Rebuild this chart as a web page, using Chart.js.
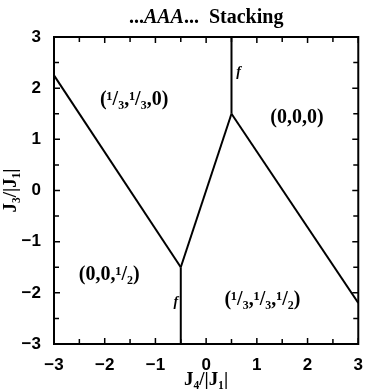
<!DOCTYPE html>
<html>
<head>
<meta charset="utf-8">
<script src="https://cdn.jsdelivr.net/npm/chart.js@4/dist/chart.umd.min.js"></script>
<style>
  html, body { margin: 0; padding: 0; background: #fff; }
  #wrap { width: 366px; height: 391px; }
</style>
</head>
<body>
<div id="wrap"><canvas id="chart"></canvas></div>
<script>
// phase boundaries in the (J4/|J1|, J3/|J1|) plane
const leftEdgeX = [-3, -0.5];
const leftEdgeY = [2.25, -1.5];
const middleEdgeX = [-0.5, 0.5];
const middleEdgeY = [-1.5, 1.5];
const rightEdgeX = [0.5, 3];
const rightEdgeY = [1.5, -2.2];
const upperEdgeX = [0.5, 0.5];
const upperEdgeY = [1.5, 3];
const lowerEdgeX = [-0.5, -0.5];
const lowerEdgeY = [-1.5, -3];

// phase names and where they sit
const phaseNames = ['(¹/₃,¹/₃,0)', '(0,0,0)', '(0,0,¹/₂)', '(¹/₃,¹/₃,¹/₂)'];
const phaseX = [-1.42, 1.79, -1.91, 1.11];
const phaseY = [1.77, 1.42, -1.65, -2.14];

// first-order transition marks
const markNames = ['f', 'f'];
const markX = [0.64, -0.6];
const markY = [2.3, -2.18];

const tickValues = [-3, -2, -1, 0, 1, 2, 3];

function pts(xs, ys) {
    return xs.map((x, i) => ({x: x, y: ys[i]}));
}

function edge(xs, ys) {
    return {
        data: pts(xs, ys),
        showLine: true,
        borderColor: '#000',
        borderWidth: 2,
        pointRadius: 0,
        fill: false
    };
}

const frame = {
    id: 'frame',
    afterDraw(chart) {
        const {ctx, chartArea: a, scales} = chart;
        ctx.save();
        ctx.strokeStyle = '#000';
        ctx.lineWidth = 2;
        ctx.strokeRect(a.left, a.top, a.right - a.left, a.bottom - a.top);
        ctx.lineWidth = 1.5;
        for (let v = -3; v <= 3; v += 0.5) {
            const len = Number.isInteger(v) ? 6 : 5;
            const px = scales.x.getPixelForValue(v);
            const py = scales.y.getPixelForValue(v);
            ctx.beginPath();
            ctx.moveTo(px, a.bottom); ctx.lineTo(px, a.bottom - len);
            ctx.moveTo(px, a.top); ctx.lineTo(px, a.top + len);
            ctx.moveTo(a.left, py); ctx.lineTo(a.left + len, py);
            ctx.moveTo(a.right, py); ctx.lineTo(a.right - len, py);
            ctx.stroke();
        }
        // phase labels
        ctx.fillStyle = '#000';
        ctx.textAlign = 'center';
        ctx.textBaseline = 'middle';
        ctx.font = 'bold 20px "Liberation Serif"';
        phaseNames.forEach((t, i) => {
            ctx.fillText(t, scales.x.getPixelForValue(phaseX[i]), scales.y.getPixelForValue(phaseY[i]));
        });
        ctx.font = 'italic bold 14px "Liberation Serif"';
        markNames.forEach((t, i) => {
            ctx.fillText(t, scales.x.getPixelForValue(markX[i]), scales.y.getPixelForValue(markY[i]));
        });
        // title with italic stacking letters
        const parts = [
            ['...', 'bold 20px "Liberation Serif"'],
            ['AAA', 'italic bold 20px "Liberation Serif"'],
            ['...  Stacking', 'bold 20px "Liberation Serif"']
        ];
        let total = 0;
        parts.forEach(p => { ctx.font = p[1]; total += ctx.measureText(p[0]).width; });
        let x = (a.left + a.right) / 2 - total / 2;
        ctx.textAlign = 'left';
        ctx.textBaseline = 'alphabetic';
        parts.forEach(p => {
            ctx.font = p[1];
            ctx.fillText(p[0], x, 23);
            x += ctx.measureText(p[0]).width;
        });
        ctx.restore();
    }
};

function tickLabel(v) {
    if (!tickValues.includes(v)) return '';
    return v < 0 ? '\u2212' + Math.abs(v) : String(v);
}

new Chart(document.getElementById('chart').getContext('2d'), {
    type: 'scatter',
    data: {
        datasets: [
            edge(leftEdgeX, leftEdgeY),
            edge(middleEdgeX, middleEdgeY),
            edge(rightEdgeX, rightEdgeY),
            edge(upperEdgeX, upperEdgeY),
            edge(lowerEdgeX, lowerEdgeY)
        ]
    },
    options: {
        responsive: true,
        maintainAspectRatio: false,
        animation: false,
        layout: {padding: {left: 0, right: 4, top: 37, bottom: 0}},
        plugins: {legend: {display: false}, tooltip: {enabled: false}},
        scales: {
            x: {
                min: -3, max: 3,
                grid: {display: false},
                border: {display: false},
                ticks: {
                    stepSize: 1, padding: 3, color: '#000', maxRotation: 0,
                    font: {family: '"Liberation Sans"', size: 17, weight: 'bold'},
                    callback: tickLabel
                },
                title: {
                    display: true, text: 'J₄/|J₁|', color: '#000',
                    font: {family: '"Liberation Serif"', size: 19, weight: 'bold'},
                    padding: {top: 0, bottom: 0}
                },
                afterFit(scale) { scale.height = 47; }
            },
            y: {
                min: -3, max: 3,
                grid: {display: false},
                border: {display: false},
                ticks: {
                    stepSize: 1, padding: 5, color: '#000',
                    font: {family: '"Liberation Sans"', size: 17, weight: 'bold'},
                    callback: tickLabel
                },
                title: {
                    display: true, text: 'J₃/|J₁|', color: '#000',
                    font: {family: '"Liberation Serif"', size: 19, weight: 'bold'},
                    padding: {top: 0, bottom: 0}
                },
                afterFit(scale) { scale.width = 54; }
            }
        }
    },
    plugins: [frame]
});
</script>
</body>
</html>
